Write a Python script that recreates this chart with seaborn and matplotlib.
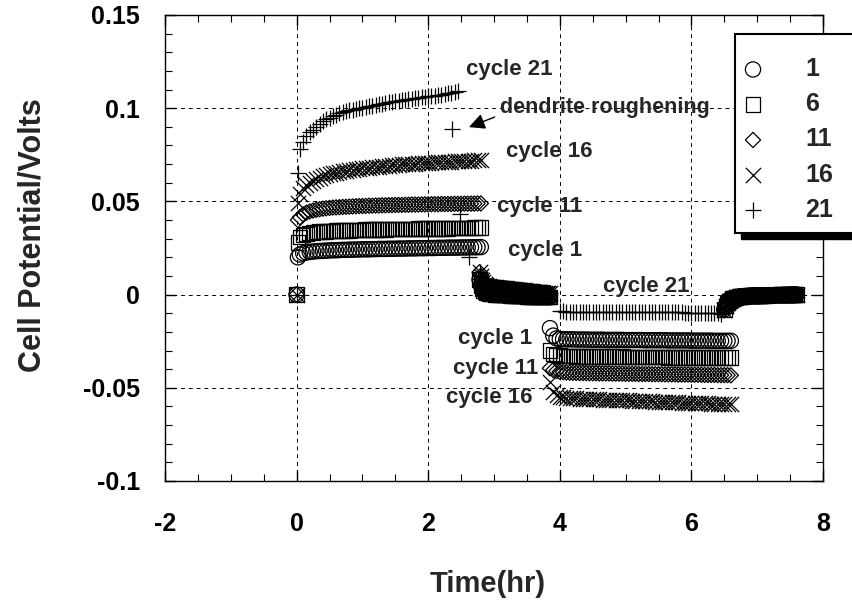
import matplotlib
matplotlib.use("Agg")
import matplotlib.pyplot as plt
from matplotlib.patches import Rectangle
from matplotlib.ticker import MultipleLocator
import seaborn as sns

# %%-----------------------------------------------------------------------
# values (time in hr, potential in V)

t_charge = [0.0, 0.02, 0.05, 0.1, 0.15, 0.2, 0.25, 0.3, 0.35, 0.4,
            0.45, 0.5, 0.55, 0.6, 0.65, 0.7, 0.75, 0.8, 0.85, 0.9,
            0.95, 1.0, 1.05, 1.1, 1.15, 1.2, 1.25, 1.3, 1.35, 1.4,
            1.45, 1.5, 1.55, 1.6, 1.65, 1.7, 1.75, 1.8, 1.85, 1.9,
            1.95, 2.0, 2.05, 2.1, 2.15, 2.2, 2.25, 2.3, 2.35, 2.4,
            2.45, 2.5, 2.55, 2.6, 2.65, 2.7, 2.75, 2.8]
v1_charge = [0.0, 0.020, 0.0215, 0.0222, 0.0226, 0.0229, 0.0231, 0.0233, 0.0234, 0.0235,
             0.0236, 0.0237, 0.0238, 0.0238, 0.0239, 0.024, 0.024, 0.0241, 0.0241, 0.0242,
             0.0242, 0.0243, 0.0243, 0.0243, 0.0244, 0.0244, 0.0245, 0.0245, 0.0245, 0.0246,
             0.0246, 0.0246, 0.0247, 0.0247, 0.0247, 0.0248, 0.0248, 0.0248, 0.0249, 0.0249,
             0.0249, 0.025, 0.025, 0.025, 0.0251, 0.0251, 0.0251, 0.0252, 0.0252, 0.0252,
             0.0252, 0.0253, 0.0253, 0.0253, 0.0254, 0.0254, 0.0254, 0.0255]
v6_charge = [0.0, 0.028, 0.031, 0.032, 0.0326, 0.033, 0.0333, 0.0335, 0.0337, 0.0338,
             0.034, 0.0341, 0.0342, 0.0343, 0.0343, 0.0344, 0.0345, 0.0345, 0.0346, 0.0346,
             0.0347, 0.0347, 0.0348, 0.0348, 0.0349, 0.0349, 0.035, 0.035, 0.035, 0.0351,
             0.0351, 0.0351, 0.0352, 0.0352, 0.0352, 0.0353, 0.0353, 0.0353, 0.0354, 0.0354,
             0.0354, 0.0355, 0.0355, 0.0355, 0.0355, 0.0356, 0.0356, 0.0356, 0.0357, 0.0357,
             0.0357, 0.0357, 0.0358, 0.0358, 0.0358, 0.0359, 0.0359, 0.0359]
v11_charge = [0.0, 0.040, 0.0415, 0.043, 0.044, 0.0446, 0.0451, 0.0455, 0.0458, 0.0461,
              0.0463, 0.0465, 0.0467, 0.0468, 0.0469, 0.047, 0.0471, 0.0472, 0.0473, 0.0474,
              0.0475, 0.0475, 0.0476, 0.0477, 0.0477, 0.0478, 0.0478, 0.0479, 0.0479, 0.048,
              0.048, 0.0481, 0.0481, 0.0481, 0.0482, 0.0482, 0.0483, 0.0483, 0.0483, 0.0484,
              0.0484, 0.0484, 0.0485, 0.0485, 0.0485, 0.0486, 0.0486, 0.0486, 0.0486, 0.0487,
              0.0487, 0.0487, 0.0488, 0.0488, 0.0488, 0.0488, 0.0489, 0.0489]
v16_charge = [0.0, 0.049, 0.054, 0.057, 0.0588, 0.060, 0.061, 0.062, 0.0628, 0.0635,
              0.0641, 0.0646, 0.065, 0.0654, 0.0658, 0.0661, 0.0664, 0.0667, 0.067, 0.0672,
              0.0675, 0.0677, 0.0679, 0.0681, 0.0683, 0.0685, 0.0687, 0.0689, 0.069, 0.0692,
              0.0693, 0.0695, 0.0696, 0.0698, 0.0699, 0.07, 0.0701, 0.0703, 0.0704, 0.0705,
              0.0706, 0.0707, 0.0708, 0.0709, 0.071, 0.0711, 0.0712, 0.0713, 0.0714, 0.0715,
              0.0716, 0.0716, 0.0717, 0.0718, 0.0719, 0.072, 0.072, 0.0721]

# cycle 21 stops charging earlier; the last three points are the dendrite drop
t21_charge = [0.0, 0.02, 0.05, 0.1, 0.15, 0.2, 0.25, 0.3, 0.35, 0.4,
              0.45, 0.5, 0.55, 0.6, 0.65, 0.7, 0.75, 0.8, 0.85, 0.9,
              0.95, 1.0, 1.05, 1.1, 1.15, 1.2, 1.25, 1.3, 1.35, 1.4,
              1.45, 1.5, 1.55, 1.6, 1.65, 1.7, 1.75, 1.8, 1.85, 1.9,
              1.95, 2.0, 2.05, 2.1, 2.15, 2.2, 2.25, 2.3, 2.35, 2.4,
              2.45, 2.36, 2.48, 2.62]
v21_charge = [0.0, 0.065, 0.078, 0.082, 0.085, 0.087, 0.0885, 0.090, 0.0915, 0.093,
              0.094, 0.095, 0.0958, 0.0965, 0.0972, 0.0978, 0.0983, 0.0988, 0.0992, 0.0996,
              0.1, 0.1003, 0.1007, 0.101, 0.1014, 0.1018, 0.1021, 0.1025, 0.1028, 0.1032,
              0.1035, 0.1038, 0.1041, 0.1043, 0.1046, 0.1048, 0.1051, 0.1053, 0.1056, 0.1058,
              0.106, 0.1063, 0.1065, 0.1068, 0.107, 0.1073, 0.1076, 0.1079, 0.1082, 0.1086,
              0.109, 0.0888, 0.043, 0.020]

# open circuit rest after charge (all cycles overlap into one blob)
t_rest1 = [2.78, 2.8, 2.82, 2.84, 2.86, 2.88,
           2.9, 2.925, 2.95, 2.975, 3.0, 3.025, 3.05, 3.075, 3.1, 3.125,
           3.15, 3.175, 3.2, 3.225, 3.25, 3.275, 3.3, 3.325, 3.35, 3.375,
           3.4, 3.425, 3.45, 3.475, 3.5, 3.525, 3.55, 3.575, 3.6, 3.625,
           3.65, 3.675, 3.7, 3.725, 3.75, 3.775, 3.8, 3.825, 3.85]
v_rest1_hi = [0.012, 0.010, 0.008, 0.0065, 0.0055, 0.005,
              0.0047, 0.0045, 0.0043, 0.0042, 0.004, 0.0039, 0.0038, 0.0037, 0.0036, 0.0035,
              0.0034, 0.0033, 0.0032, 0.0031, 0.003, 0.0029, 0.0028, 0.0027, 0.0026, 0.0025,
              0.0024, 0.0023, 0.0022, 0.0021, 0.002, 0.0019, 0.0018, 0.0017, 0.0016, 0.0015,
              0.0014, 0.0013, 0.0012, 0.0011, 0.001, 0.001, 0.0009, 0.0009, 0.0008]
v_rest1_lo = [0.008, 0.005, 0.003, 0.002, 0.0015, 0.001,
              0.0008, 0.0006, 0.0005, 0.0004, 0.0003, 0.0002, 0.0001, 0.0, 0.0, -0.0001,
              -0.0002, -0.0002, -0.0003, -0.0003, -0.0004, -0.0004, -0.0005, -0.0005, -0.0006, -0.0006,
              -0.0007, -0.0007, -0.0008, -0.0008, -0.0009, -0.0009, -0.001, -0.001, -0.001, -0.0011,
              -0.0011, -0.0011, -0.0012, -0.0012, -0.0012, -0.0012, -0.0013, -0.0013, -0.0013]

t_dis = [3.85, 3.9, 3.95, 4.0, 4.05, 4.1, 4.15, 4.2, 4.25, 4.3,
         4.35, 4.4, 4.45, 4.5, 4.55, 4.6, 4.65, 4.7, 4.75, 4.8,
         4.85, 4.9, 4.95, 5.0, 5.05, 5.1, 5.15, 5.2, 5.25, 5.3,
         5.35, 5.4, 5.45, 5.5, 5.55, 5.6, 5.65, 5.7, 5.75, 5.8,
         5.85, 5.9, 5.95, 6.0, 6.05, 6.1, 6.15, 6.2, 6.25, 6.3,
         6.35, 6.4, 6.45, 6.5, 6.55, 6.6]
v1_dis = [-0.018, -0.022, -0.0235, -0.0238, -0.0239, -0.024, -0.024, -0.024, -0.0241, -0.0241,
          -0.0241, -0.0241, -0.0242, -0.0242, -0.0242, -0.0242, -0.0242, -0.0243, -0.0243, -0.0243,
          -0.0243, -0.0243, -0.0243, -0.0244, -0.0244, -0.0244, -0.0244, -0.0244, -0.0244, -0.0245,
          -0.0245, -0.0245, -0.0245, -0.0245, -0.0245, -0.0245, -0.0246, -0.0246, -0.0246, -0.0246,
          -0.0246, -0.0246, -0.0246, -0.0247, -0.0247, -0.0247, -0.0247, -0.0247, -0.0247, -0.0247,
          -0.0248, -0.0248, -0.0248, -0.0248, -0.0248, -0.0248]
v6_dis = [-0.030, -0.0318, -0.0325, -0.0328, -0.0329, -0.033, -0.033, -0.033, -0.0331, -0.0331,
          -0.0331, -0.0331, -0.0332, -0.0332, -0.0332, -0.0332, -0.0332, -0.0333, -0.0333, -0.0333,
          -0.0333, -0.0333, -0.0333, -0.0334, -0.0334, -0.0334, -0.0334, -0.0334, -0.0334, -0.0335,
          -0.0335, -0.0335, -0.0335, -0.0335, -0.0335, -0.0335, -0.0336, -0.0336, -0.0336, -0.0336,
          -0.0336, -0.0336, -0.0336, -0.0337, -0.0337, -0.0337, -0.0337, -0.0337, -0.0337, -0.0337,
          -0.0338, -0.0338, -0.0338, -0.0338, -0.0338, -0.0338]
v11_dis = [-0.0395, -0.0405, -0.041, -0.0414, -0.0416, -0.0418, -0.0419, -0.042, -0.042, -0.0421,
           -0.0421, -0.0421, -0.0422, -0.0422, -0.0422, -0.0423, -0.0423, -0.0423, -0.0423, -0.0424,
           -0.0424, -0.0424, -0.0424, -0.0425, -0.0425, -0.0425, -0.0425, -0.0426, -0.0426, -0.0426,
           -0.0426, -0.0427, -0.0427, -0.0427, -0.0427, -0.0428, -0.0428, -0.0428, -0.0428, -0.0429,
           -0.0429, -0.0429, -0.0429, -0.043, -0.043, -0.043, -0.043, -0.0431, -0.0431, -0.0431,
           -0.0431, -0.0432, -0.0432, -0.0432, -0.0432, -0.0433]
v16_dis = [-0.047, -0.052, -0.054, -0.0548, -0.0552, -0.0554, -0.0555, -0.0556, -0.0557, -0.0558,
           -0.0559, -0.056, -0.056, -0.0561, -0.0562, -0.0562, -0.0563, -0.0564, -0.0564, -0.0565,
           -0.0566, -0.0566, -0.0567, -0.0568, -0.0568, -0.0569, -0.057, -0.057, -0.0571, -0.0572,
           -0.0572, -0.0573, -0.0574, -0.0574, -0.0575, -0.0576, -0.0576, -0.0577, -0.0578, -0.0578,
           -0.0579, -0.058, -0.058, -0.0581, -0.0582, -0.0582, -0.0583, -0.0584, -0.0584, -0.0585,
           -0.0586, -0.0586, -0.0587, -0.0588, -0.0588, -0.0589]

t21_dis = [4.0, 4.05, 4.1, 4.15, 4.2, 4.25, 4.3, 4.35, 4.4, 4.45, 4.5,
           4.55, 4.6, 4.65, 4.7, 4.75, 4.8, 4.85, 4.9, 4.95, 5.0,
           5.05, 5.1, 5.15, 5.2, 5.25, 5.3, 5.35, 5.4, 5.45, 5.5,
           5.55, 5.6, 5.65, 5.7, 5.75, 5.8, 5.85, 5.9, 5.95, 6.0,
           6.05, 6.1, 6.15, 6.2, 6.25, 6.3, 6.35, 6.4, 6.45]
v21_dis = [-0.0090, -0.0090, -0.0091, -0.0092, -0.0092, -0.0092, -0.0093, -0.0093, -0.0093, -0.0093, -0.0093,
           -0.0093, -0.0093, -0.0094, -0.0094, -0.0094, -0.0094, -0.0094, -0.0094, -0.0094, -0.0094,
           -0.0094, -0.0095, -0.0095, -0.0095, -0.0095, -0.0095, -0.0095, -0.0095, -0.0095, -0.0095,
           -0.0096, -0.0096, -0.0096, -0.0096, -0.0096, -0.0096, -0.0096, -0.0097, -0.0097, -0.0097,
           -0.0097, -0.0097, -0.0098, -0.0098, -0.0098, -0.0099, -0.0099, -0.010, -0.0102]

# open circuit rest after discharge
t_rest2 = [6.5, 6.525, 6.55, 6.575, 6.6, 6.625, 6.65, 6.675, 6.7, 6.725,
           6.75, 6.775, 6.8, 6.825, 6.85, 6.875, 6.9, 6.925, 6.95, 6.975,
           7.0, 7.025, 7.05, 7.075, 7.1, 7.125, 7.15, 7.175, 7.2, 7.225,
           7.25, 7.275, 7.3, 7.325, 7.35, 7.375, 7.4, 7.425, 7.45, 7.475,
           7.5, 7.525, 7.55, 7.575, 7.6]
v_rest2 = [-0.008, -0.006, -0.0045, -0.0035, -0.0028, -0.0022, -0.0018, -0.0015, -0.0013, -0.0011,
           -0.001, -0.0009, -0.0008, -0.0008, -0.0007, -0.0007, -0.0006, -0.0006, -0.0006, -0.0005,
           -0.0005, -0.0005, -0.0004, -0.0004, -0.0004, -0.0004, -0.0003, -0.0003, -0.0003, -0.0003,
           -0.0003, -0.0002, -0.0002, -0.0002, -0.0002, -0.0002, -0.0001, -0.0001, -0.0001, -0.0001,
           -0.0001, 0.0, 0.0, 0.0, 0.0]

cycles = ['1', '6', '11', '16', '21']
x_ticks = [-2, 0, 2, 4, 6, 8]
x_tick_labels = ['-2', '0', '2', '4', '6', '8']
y_ticks = [-0.1, -0.05, 0, 0.05, 0.1, 0.15]
y_tick_labels = ['-0.1', '-0.05', '0', '0.05', '0.1', '0.15']

# %%-----------------------------------------------------------------------
# style

sns.set_style("ticks")
plt.rcParams['font.family'] = ['Liberation Sans', 'DejaVu Sans']
plt.rcParams['font.weight'] = 'bold'

fig = plt.figure(figsize=(8.52, 6.09), dpi=100)
ax = fig.add_axes([165 / 852, 128 / 609, 658 / 852, 466 / 609])

series = {
    '1': (t_charge + t_rest1 + t_dis + t_rest2, v1_charge + v_rest1_lo + v1_dis + v_rest2),
    '6': (t_charge + t_rest1 + t_dis + t_rest2, v6_charge + v_rest1_lo + v6_dis + v_rest2),
    '11': (t_charge + t_rest1 + t_dis + t_rest2, v11_charge + v_rest1_hi + v11_dis + v_rest2),
    '16': (t_charge + t_rest1 + t_dis + t_rest2, v16_charge + v_rest1_hi + v16_dis + v_rest2),
    '21': (t21_charge + t_rest1 + t21_dis + t_rest2, v21_charge + v_rest1_hi + v21_dis + v_rest2),
}
marker_opts = {
    '1': dict(marker='o', s=120, facecolor='none', edgecolor='black'),
    '6': dict(marker='s', s=110, facecolor='none', edgecolor='black'),
    '11': dict(marker='D', s=60, facecolor='none', edgecolor='black'),
    '16': dict(marker='x', s=120, color='black'),
    '21': dict(marker='+', s=130, color='black'),
}

for c in cycles:
    tt, vv = series[c]
    sns.scatterplot(x=tt, y=vv, ax=ax, linewidth=0.9, label=c, zorder=3, **marker_opts[c])

# %%-----------------------------------------------------------------------
# axes

ax.set_xlim(-2, 8)
ax.set_ylim(-0.1, 0.15)
ax.set_xticks(x_ticks, x_tick_labels)
ax.set_yticks(y_ticks, y_tick_labels)
ax.xaxis.set_minor_locator(MultipleLocator(0.5))
ax.yaxis.set_minor_locator(MultipleLocator(0.01))
ax.tick_params(which='both', direction='in', top=True, right=True, colors='black')
ax.tick_params(which='major', length=8, width=1)
ax.tick_params(which='minor', length=5, width=0.8)
ax.tick_params(axis='x', which='major', labelsize=18, pad=22)
ax.tick_params(axis='y', which='major', labelsize=18, pad=18)
for sp in ax.spines.values():
    sp.set_color('black')
    sp.set_linewidth(1.0)
ax.grid(True, which='major', color='black', linestyle=(0, (4, 4)), linewidth=0.7)
ax.set_axisbelow(True)

ax.set_xlabel('Time(hr)', fontsize=21, fontweight='bold')
ax.set_ylabel('Cell Potential/Volts', fontsize=22, fontweight='bold')
ax.xaxis.set_label_coords(0.49, -0.19)
ax.yaxis.set_label_coords(-0.178, 0.528)

# %%-----------------------------------------------------------------------
# labels on the curves

lab = dict(fontsize=16, fontweight='bold', va='center')
ax.text(2.57, 0.1207, 'cycle 21', ha='left', **lab)
ax.text(3.09, 0.1003, 'dendrite roughening', ha='left', fontsize=15.5, fontweight='bold', va='center')
ax.text(3.18, 0.0767, 'cycle 16', ha='left', **lab)
ax.text(3.04, 0.0470, 'cycle 11', ha='left', **lab)
ax.text(3.21, 0.0239, 'cycle 1', ha='left', **lab)
ax.text(4.66, 0.0045, 'cycle 21', ha='left', **lab)
ax.text(3.58, -0.0234, 'cycle 1', ha='right', **lab)
ax.text(3.68, -0.0396, 'cycle 11', ha='right', **lab)
ax.text(3.58, -0.0550, 'cycle 16', ha='right', **lab)
ax.annotate('', xy=(2.58, 0.0893), xytext=(3.05, 0.0958),
            arrowprops=dict(arrowstyle='-|>', color='black', lw=1, mutation_scale=24))

# %%-----------------------------------------------------------------------
# legend: opaque box with a black drop shadow, running off the right edge

handles, labels = ax.get_legend_handles_labels()
ax.get_legend().remove()

box_x0, box_top, box_bot, box_x1 = 735, 34, 233, 880
shadow = Rectangle(((box_x0 + 6) / 852, 1 - (box_bot + 6) / 609),
                   (box_x1 - box_x0) / 852, (box_bot - box_top) / 609,
                   transform=fig.transFigure, facecolor='black', edgecolor='black', zorder=4.5)
box = Rectangle((box_x0 / 852, 1 - box_bot / 609),
                (box_x1 - box_x0) / 852, (box_bot - box_top) / 609,
                transform=fig.transFigure, facecolor='white', edgecolor='black',
                linewidth=1.5, zorder=5)
fig.patches.extend([shadow, box])

leg = fig.legend(handles, labels, loc='upper left', bbox_to_anchor=(740.5 / 852, 1 - 57 / 609),
                 bbox_transform=fig.transFigure, frameon=False, borderpad=0, borderaxespad=0,
                 labelspacing=0.45, handletextpad=1.58, handlelength=1.0,
                 prop={'weight': 'bold', 'size': 18})
leg.set_zorder(6)

plt.savefig('out.png', dpi=100)
